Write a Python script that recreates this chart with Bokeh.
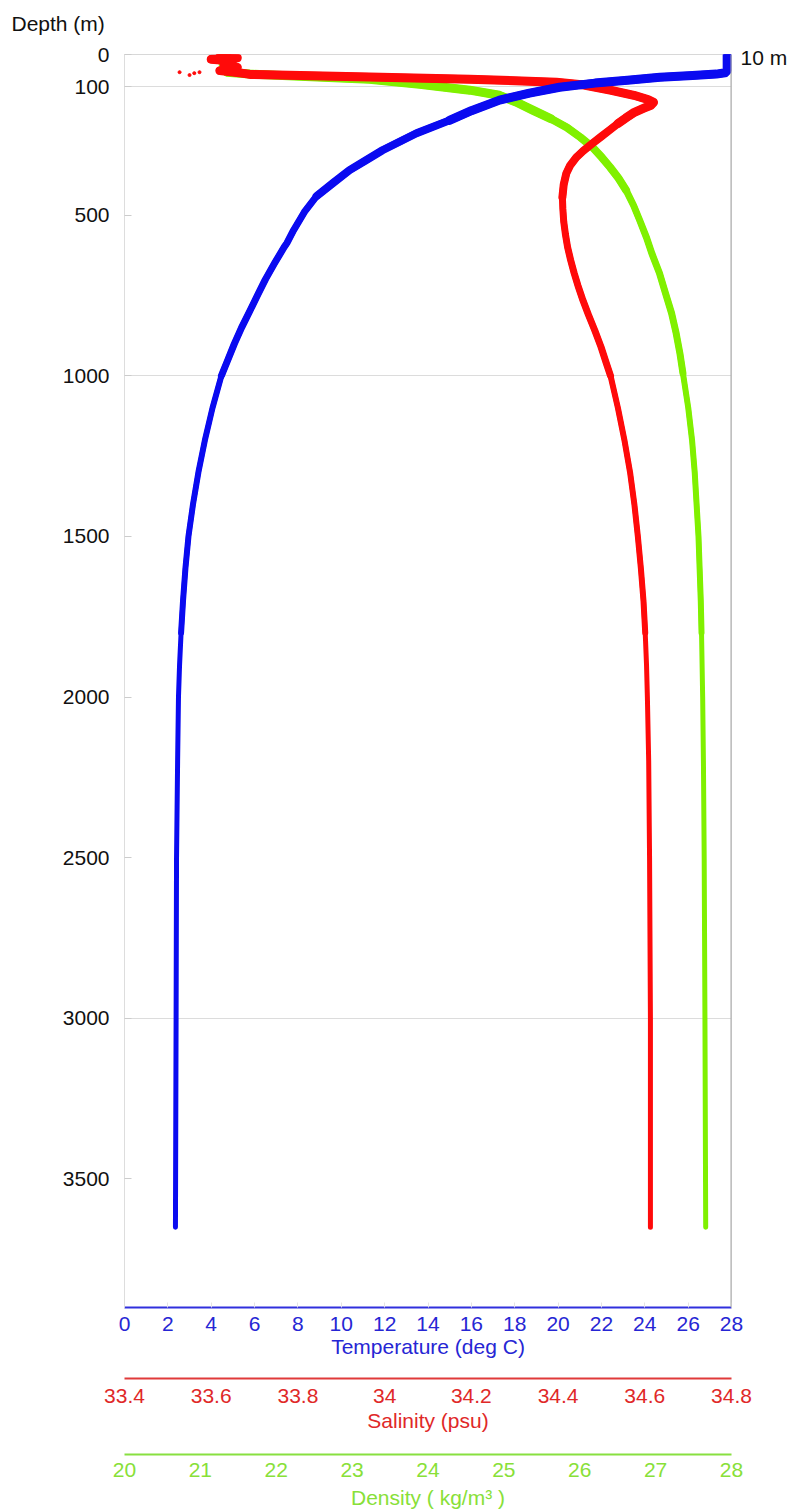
from bokeh.plotting import figure
from bokeh.models import (Range1d, LinearAxis, FixedTicker, Grid, Span, Title,
                          CustomJSTickFormatter)
from bokeh.embed import file_html
from bokeh.resources import INLINE

# ---------------- data ----------------
depth_ticks = [0, 100, 500, 1000, 1500, 2000, 2500, 3000, 3500]
grid_depths = [100, 1000, 3000]
temp_ticks = [0, 2, 4, 6, 8, 10, 12, 14, 16, 18, 20, 22, 24, 26, 28]
sal_ticks = [33.4, 33.6, 33.8, 34.0, 34.2, 34.4, 34.6, 34.8]
dens_ticks = [20, 21, 22, 23, 24, 25, 26, 27, 28]
marker_depth = [10]

temp_depth = [0, 25, 50, 57, 61, 65, 71, 80, 89, 102, 120, 142, 175, 205, 245,
              270, 298, 330, 360, 400, 441, 490, 547, 587, 600, 650, 700, 750,
              800, 850, 900, 950, 1000, 1100, 1200, 1300, 1400, 1500, 1600, 1700,
              1800, 1900, 2000, 2200, 2500, 3000, 3650]
temperature = [27.8, 27.8, 27.8, 27.7, 27.3, 26.2, 24.7, 23.2, 21.7, 20.07, 18.68,
               17.3, 16.0, 14.99, 13.47, 12.73, 11.9, 11.12, 10.38, 9.62, 8.86,
               8.3, 7.8, 7.49, 7.36, 6.92, 6.5, 6.13, 5.77, 5.4, 5.07, 4.77, 4.47,
               4.06, 3.71, 3.41, 3.16, 2.95, 2.81, 2.7, 2.61, 2.54, 2.49, 2.45,
               2.4, 2.38, 2.35]

sal_depth = [0, 5, 10, 15, 20, 30, 40, 50, 58, 62, 70, 77, 86, 95, 111, 127, 140,
             149, 158, 167, 180, 198, 215, 236, 256, 276, 300, 320, 345, 370, 405,
             444, 480, 520, 560, 600, 640, 680, 720, 760, 810, 860, 910, 960,
             1000, 1100, 1200, 1300, 1400, 1500, 1600, 1700, 1800, 1900, 2000,
             2200, 2500, 3000, 3650]
salinity = [33.64, 33.62, 33.66, 33.60, 33.65, 33.63, 33.66, 33.62, 33.67, 33.69,
            33.965, 34.196, 34.396, 34.46, 34.52, 34.575, 34.607, 34.62, 34.614,
            34.598, 34.576, 34.556, 34.538, 34.518, 34.499, 34.48, 34.458, 34.442,
            34.428, 34.419, 34.413, 34.41, 34.411, 34.413, 34.417, 34.422, 34.429,
            34.437, 34.446, 34.456, 34.47, 34.485, 34.499, 34.511, 34.521, 34.538,
            34.553, 34.566, 34.576, 34.584, 34.591, 34.597, 34.601, 34.604, 34.606,
            34.609, 34.611, 34.613, 34.613]

# scattered low-salinity surface readings
sal_dot_depth = [55, 64, 58, 55]
sal_dots = [33.527, 33.55, 33.561, 33.573]

dens_depth = [0, 30, 55, 61, 68, 77, 93, 111, 127, 150, 173, 200, 227, 258, 289,
              320, 351, 385, 422, 470, 516, 570, 619, 680, 743, 805, 867, 930, 992,
              1100, 1200, 1300, 1400, 1500, 1600, 1700, 1800, 2000, 2200, 2500,
              3000, 3650]
density = [21.3, 21.3, 21.35, 21.65, 22.31, 23.23, 23.89, 24.55, 24.94, 25.18,
           25.38, 25.62, 25.83, 26.01, 26.17, 26.29, 26.4, 26.51, 26.61, 26.71,
           26.79, 26.88, 26.95, 27.05, 27.13, 27.21, 27.27, 27.32, 27.36, 27.43,
           27.48, 27.515, 27.54, 27.565, 27.58, 27.595, 27.605, 27.62, 27.63,
           27.64, 27.65, 27.66]

# ---------------- styling ----------------
FONT = "Liberation Sans"
FS = "21px"
BLUE, RED, GREEN = "#0a0af0", "#ff0a0a", "#80f000"
BLUE_T, RED_T, GREEN_T = "#2626d4", "#e02828", "#88e038"

p = figure(frame_width=607, frame_height=1253,
           x_range=Range1d(0, 28), y_range=Range1d(3900, 0),
           x_axis_location=None, output_backend="svg", toolbar_location=None,
           min_border_left=124, min_border_top=54, min_border_right=58,
           min_border_bottom=0, background_fill_color="white",
           border_fill_color="white", outline_line_color="#d8d8d8")
p.extra_x_ranges = {"sal": Range1d(33.4, 34.8), "dens": Range1d(20, 28)}
p.grid.visible = False

fmt = CustomJSTickFormatter(code="return Number(tick.toFixed(2)).toString();")

# depth axis
ya = p.yaxis[0]
ya.ticker = FixedTicker(ticks=depth_ticks)
ya.major_label_text_font = FONT
ya.major_label_text_font_size = FS
ya.major_label_text_color = "#111111"
ya.axis_line_color = "#dddddd"
ya.major_tick_in = 7
ya.major_tick_out = 0
ya.major_tick_line_color = "#cccccc"
ya.minor_tick_line_color = None
ya.major_label_standoff = 15

# "10 m" marker on the right side
ra = LinearAxis(ticker=FixedTicker(ticks=marker_depth),
                formatter=CustomJSTickFormatter(code="return tick + ' m';"),
                axis_line_color=None, major_tick_line_color=None,
                major_tick_in=0, major_tick_out=0,
                minor_tick_line_color=None, minor_tick_in=0, minor_tick_out=0,
                major_label_standoff=9,
                major_label_text_font=FONT, major_label_text_font_size=FS,
                major_label_text_color="#111111")
p.add_layout(ra, "right")

# spacer next to the frame, then the depth title above it
p.add_layout(Title(text=" ", standoff=0, text_font=FONT, text_font_size="15px",
                   text_color="white"), "above")
p.add_layout(Title(text="Depth (m)", align="left", offset=-113, standoff=2,
                   text_font=FONT, text_font_size=FS, text_font_style="normal",
                   text_color="#111111"), "above")

p.add_layout(Grid(dimension=1, ticker=FixedTicker(ticks=grid_depths),
                  grid_line_color="#dcdcdc", grid_line_width=1))


def make_axis(rng, ticks, label, line_c, text_c, std, lstd):
    ax = LinearAxis(ticker=FixedTicker(ticks=ticks), formatter=fmt,
                    axis_label=label)
    if rng:
        ax.x_range_name = rng
    ax.axis_line_color = line_c
    ax.axis_line_width = 2
    ax.major_tick_in = 5
    ax.major_tick_out = 0
    ax.major_tick_line_color = "#e4e4e4" if rng is None else None
    ax.minor_tick_line_color = None
    ax.major_label_text_font = FONT
    ax.major_label_text_font_size = FS
    ax.major_label_text_color = text_c
    ax.major_label_standoff = std
    ax.axis_label_text_font = FONT
    ax.axis_label_text_font_size = FS
    ax.axis_label_text_font_style = "normal"
    ax.axis_label_text_color = text_c
    ax.axis_label_standoff = lstd
    return ax


def spacer(h):
    return LinearAxis(x_range_name="dens", ticker=FixedTicker(ticks=[]),
                      axis_line_color=None, major_tick_line_color=None,
                      minor_tick_line_color=None, major_label_standoff=0,
                      axis_label=" ", axis_label_standoff=0,
                      axis_label_text_font_size=f"{h}px",
                      axis_label_text_color="white")


p.add_layout(make_axis(None, temp_ticks, "Temperature (deg C)", "#3030dd", BLUE_T, 9, 1), "below")
p.add_layout(spacer(13), "below")
p.add_layout(make_axis("sal", sal_ticks, "Salinity (psu)", "#e03a3a", RED_T, 10, 3), "below")
p.add_layout(spacer(15), "below")
p.add_layout(make_axis("dens", dens_ticks, "Density ( kg/m\u00b3 )", "#88e040", GREEN_T, 8, 6), "below")


def upto(depths, vals, dmax):
    d = [a for a in depths if a <= dmax]
    return d, vals[:len(d)]


# band thickness narrows with depth (noisier upper ocean)
WIDTH_STEPS = [(4000, 5), (1800, 6), (1000, 7), (450, 8), (220, 9)]


def draw(vals, depths, color, rng=None):
    kw = dict(line_color=color, line_cap="round", line_join="round")
    if rng:
        kw["x_range_name"] = rng
    for dmax, w in WIDTH_STEPS:
        d, v = upto(depths, vals, dmax)
        p.line(v, d, line_width=w, **kw)


draw(density, dens_depth, GREEN, "dens")
draw(salinity, sal_depth, RED, "sal")
p.scatter(sal_dots, sal_dot_depth, x_range_name="sal", size=3, color=RED)
draw(temperature, temp_depth, BLUE)

p.add_layout(Span(location=28, dimension="height", line_color="#a8a8a8", line_width=2))

open("out.html", "w").write(file_html(p, INLINE))
